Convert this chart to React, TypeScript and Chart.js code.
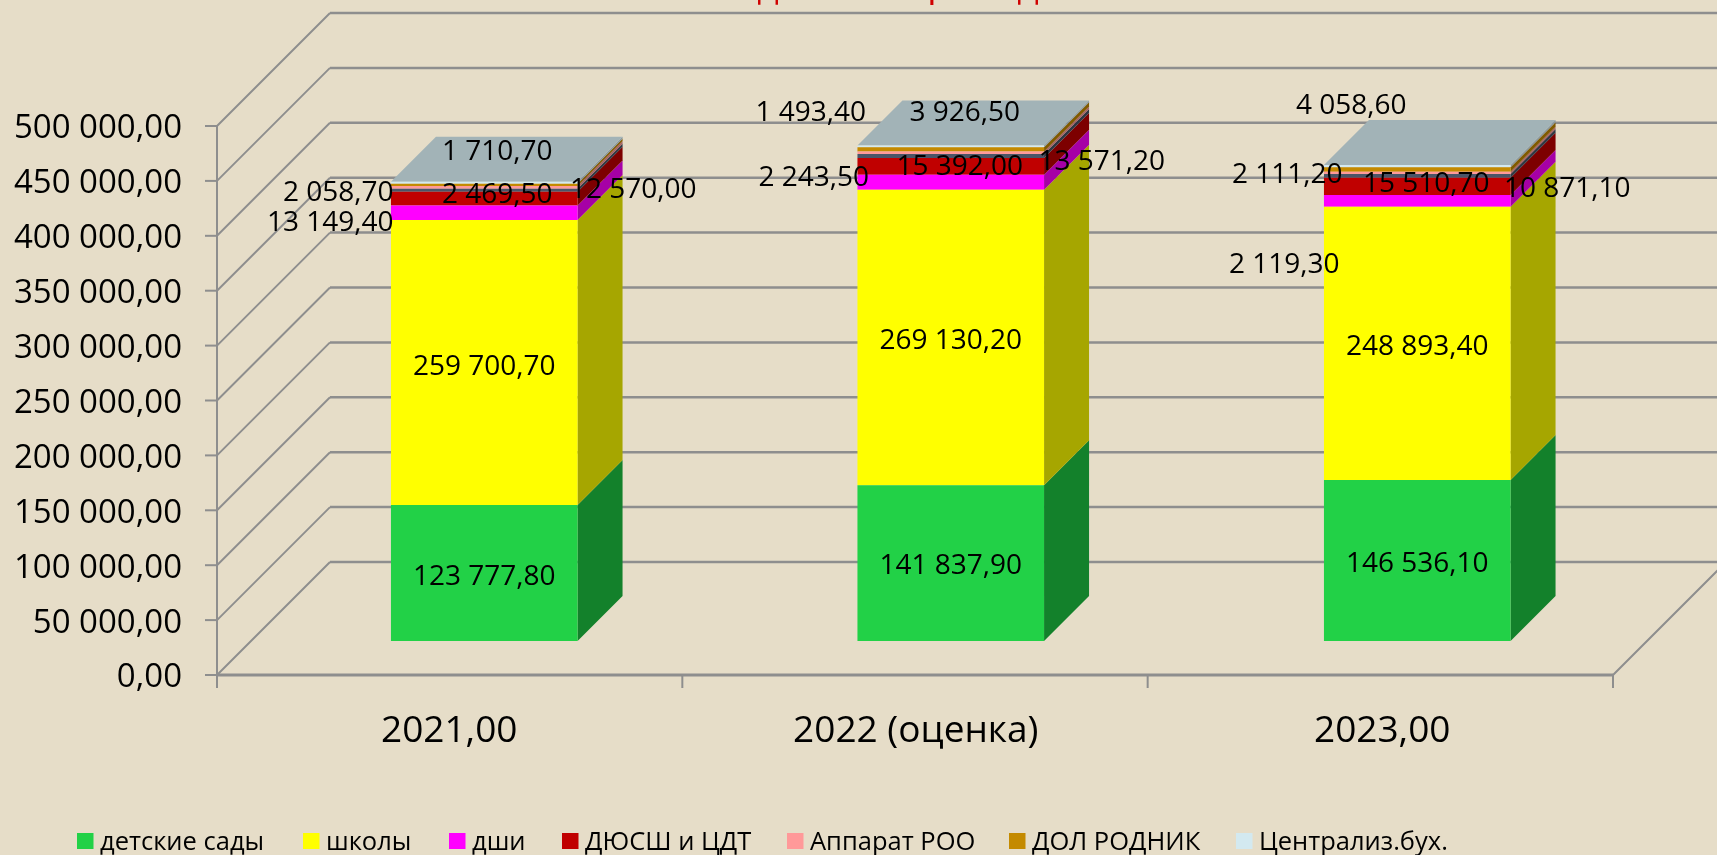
import React, { useEffect, useRef } from "react";
import { Chart, registerables } from "chart.js";

Chart.register(...registerables);

const categories = ["2021,00", "2022 (оценка)", "2023,00"];
const detskieSady = [123777.8, 141837.9, 146536.1];
const shkoly = [259700.7, 269130.2, 248893.4];
const dshi = [13149.4, 13571.2, 10871.1];
const dyussh = [12570.0, 15392.0, 15510.7];
const unlabeledBand = [2800, 3600, 3400];
const apparat = [2469.5, 2243.5, 2119.3];
const dolRodnik = [2058.7, 3926.5, 4058.6];
const centralBuh = [1710.7, 1493.4, 2111.2];

const FONT = "'Open Sans'";
const BG = "#E6DDC8";
const GRID = "#8E8E8E";

const seriesDefs = [
  { label: "детские сады", data: detskieSady, color: "#22D147", side: "#13812B", legendX: 77, labelAt: [[0, -64], [0, -75], [0, -77]] },
  { label: "школы", data: shkoly, color: "#FFFF00", side: "#A6A600", legendX: 303, labelAt: [[0, -274], [0, -300], [0, -294]] },
  { label: "дши", data: dshi, color: "#FF00FF", side: "#A600A6", legendX: 449, labelAt: [[-154, -417.5], [151, -478.5], [150, -451.5]] },
  { label: "ДЮСШ и ЦДТ", data: dyussh, color: "#C00000", side: "#7D0000", legendX: 562, labelAt: [[149, -450.5], [9, -473.5], [9, -456.5]] },
  { label: "", data: unlabeledBand, color: "#4A5568", side: "#303744", legendX: null, labelAt: null },
  { label: "Аппарат РОО", data: apparat, color: "#FF9999", side: "#A66363", legendX: 787, labelAt: [[13, -445.5], [-137, -462.5], [-133, -375.5]] },
  { label: "ДОЛ РОДНИК", data: dolRodnik, color: "#C48A00", side: "#805A00", legendX: 1009, labelAt: [[-146, -447.5], [14, -527.5], [-66, -535]] },
  { label: "Централиз.бух.", data: centralBuh, color: "#D3E9F0", side: "#89979C", legendX: 1236, labelAt: [[13, -488.5], [-140, -527.5], [-130, -465.5]] },
];

const TOP_FACE = "#A2B3B7";
const titleGlyphs = [
  { text: "д", x: 768 },
  { text: "р", x: 938 },
  { text: "д", x: 1028 },
];

const DEPTH = 45;
const FRONT = 34;
const BACK = 79;
const RIGHT_TRIM = 3.5;

function fmt(v: number): string {
  const fixed = v.toFixed(2);
  const [i, d] = fixed.split(".");
  return i.replace(/\B(?=(\d{3})+(?!\d))/g, " ") + "," + d;
}

const scenePlugin = {
  id: "scene",
  beforeDatasetsDraw(chart: any) {
    const { ctx } = chart;
    const x = chart.scales.x;
    const y = chart.scales.y;
    const left = x.left;
    const right = x.right;
    ctx.save();
    ctx.lineCap = "butt";
    ctx.strokeStyle = GRID;
    y.ticks.forEach((t: any) => {
      const py = y.getPixelForValue(t.value);
      const fx = left - FRONT;
      const fy = py + FRONT;
      ctx.lineWidth = 2;
      ctx.beginPath();
      ctx.moveTo(fx, fy);
      ctx.lineTo(left + BACK, py - BACK);
      ctx.stroke();
      ctx.lineWidth = 2.5;
      ctx.beginPath();
      ctx.moveTo(left + BACK, py - BACK);
      ctx.lineTo(right + BACK, py - BACK);
      ctx.stroke();
      ctx.lineWidth = 2;
      ctx.beginPath();
      ctx.moveTo(fx - 12, fy);
      ctx.lineTo(fx, fy);
      ctx.stroke();
    });
    const zero = y.getPixelForValue(0);
    const top = y.getPixelForValue(500000);
    const frontLeft = left - FRONT;
    const frontRight = right - FRONT - RIGHT_TRIM;
    ctx.lineWidth = 2;
    ctx.beginPath();
    ctx.moveTo(frontLeft, top + FRONT);
    ctx.lineTo(frontLeft, zero + FRONT + 13);
    ctx.moveTo(frontRight, zero + FRONT);
    ctx.lineTo(frontRight + FRONT + BACK, zero - BACK);
    ctx.stroke();
    ctx.lineWidth = 3;
    ctx.beginPath();
    ctx.moveTo(frontLeft, zero + FRONT);
    ctx.lineTo(frontRight, zero + FRONT);
    ctx.stroke();
    ctx.lineWidth = 2;
    const step = (frontRight - frontLeft) / categories.length;
    for (let i = 1; i <= categories.length; i++) {
      ctx.beginPath();
      ctx.moveTo(frontLeft + step * i, zero + FRONT);
      ctx.lineTo(frontLeft + step * i, zero + FRONT + 13);
      ctx.stroke();
    }
    // side and top faces of every bar, from the library's own elements
    seriesDefs.forEach((s, i) => {
      chart.getDatasetMeta(i).data.forEach((el: any) => {
        const r = el.x + el.width / 2;
        ctx.fillStyle = s.side;
        ctx.beginPath();
        ctx.moveTo(r, el.y);
        ctx.lineTo(r + DEPTH, el.y - DEPTH);
        ctx.lineTo(r + DEPTH, el.base - DEPTH);
        ctx.lineTo(r, el.base);
        ctx.closePath();
        ctx.fill();
      });
    });
    const lastMeta = chart.getDatasetMeta(seriesDefs.length - 1);
    lastMeta.data.forEach((el: any) => {
      const l = el.x - el.width / 2;
      const r = el.x + el.width / 2;
      ctx.fillStyle = TOP_FACE;
      ctx.beginPath();
      ctx.moveTo(l, el.y);
      ctx.lineTo(l + DEPTH, el.y - DEPTH);
      ctx.lineTo(r + DEPTH, el.y - DEPTH);
      ctx.lineTo(r, el.y);
      ctx.closePath();
      ctx.fill();
    });
    ctx.restore();
  },
  afterDatasetsDraw(chart: any) {
    const { ctx } = chart;
    const zero = chart.scales.y.getPixelForValue(0);
    ctx.save();
    ctx.fillStyle = "#000";
    ctx.font = `28px ${FONT}`;
    ctx.textAlign = "center";
    ctx.textBaseline = "middle";
    seriesDefs.forEach((s, i) => {
      if (!s.labelAt) return;
      chart.getDatasetMeta(i).data.forEach((el: any, j: number) => {
        const [dx, dy] = s.labelAt![j];
        ctx.fillText(fmt(s.data[j]), el.x + dx, zero + dy);
      });
    });
    // legend
    ctx.textAlign = "left";
    ctx.font = `25.5px ${FONT}`;
    seriesDefs.forEach((s) => {
      if (s.legendX === null) return;
      ctx.fillStyle = s.color;
      ctx.fillRect(s.legendX, 833, 16.5, 16);
      ctx.fillStyle = "#000";
      ctx.fillText(s.label, s.legendX + 23, 843);
    });
    // title: only the descenders stay inside the picture
    ctx.fillStyle = "#D00000";
    ctx.font = "34px 'DejaVu Sans'";
    ctx.textAlign = "center";
    ctx.textBaseline = "alphabetic";
    titleGlyphs.forEach((g) => ctx.fillText(g.text, g.x, g.text === "р" ? -2 : 0));
    ctx.restore();
  },
};

export default function App() {
  const ref = useRef<HTMLCanvasElement | null>(null);
  useEffect(() => {
    document.body.style.margin = "0";
    document.body.style.background = BG;
    const chart = new Chart(ref.current as HTMLCanvasElement, {
      type: "bar",
      data: {
        labels: categories,
        datasets: seriesDefs.map((s) => ({
          label: s.label,
          data: s.data,
          backgroundColor: s.color,
          borderWidth: 0,
          barPercentage: 0.4,
          categoryPercentage: 1,
        })),
      },
      options: {
        responsive: false,
        animation: false,
        layout: { padding: { top: 92, right: 66.5, left: 0, bottom: 0 } },
        plugins: { legend: { display: false }, title: { display: false }, tooltip: { enabled: false } },
        scales: {
          x: {
            stacked: true,
            offset: true,
            afterFit(scale: any) {
              scale.height = 214;
            },
            grid: { display: false, drawTicks: false },
            border: { display: false },
            ticks: {
              color: "#000",
              font: { family: FONT, size: 37 },
              labelOffset: -FRONT - 1,
              padding: 68,
              maxRotation: 0,
              autoSkip: false,
            },
          },
          y: {
            stacked: true,
            min: 0,
            max: 500000,
            afterFit(scale: any) {
              scale.width = 251;
            },
            grid: { display: false, drawTicks: false },
            border: { display: false },
            ticks: {
              stepSize: 50000,
              color: "#000",
              font: { family: FONT, size: 33 },
              labelOffset: FRONT + 3,
              padding: 69,
              autoSkip: false,
              callback: (v: any) => fmt(Number(v)),
            },
          },
        },
      },
      plugins: [scenePlugin],
    } as any);
    return () => chart.destroy();
  }, []);
  return <canvas ref={ref} width={1717} height={855} style={{ display: "block", background: BG }} />;
}
